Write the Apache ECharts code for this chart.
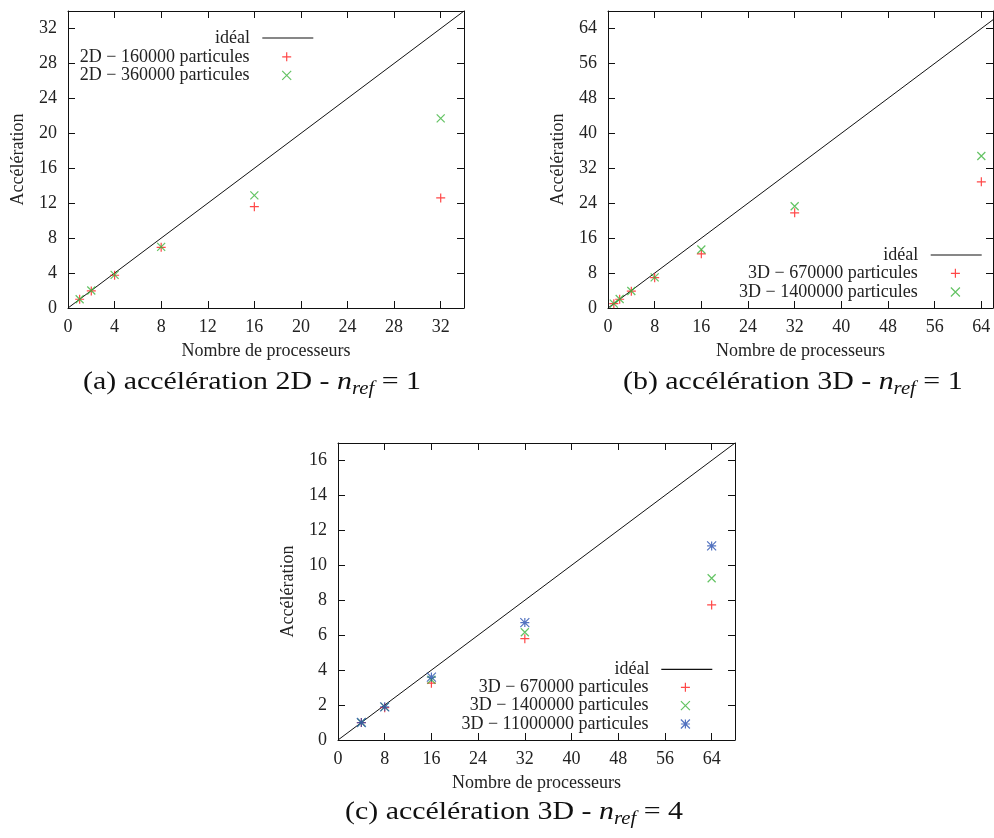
<!DOCTYPE html>
<html><head><meta charset="utf-8">
<script src="https://cdn.jsdelivr.net/npm/echarts@6/dist/echarts.min.js"></script>
<style>html,body{margin:0;padding:0;background:#fff}#c{width:994px;height:838px}</style>
</head><body><div id="c"></div>
<script>
// ---------- data ----------
// (a) 2D, n_ref = 1
const procA = [1, 2, 4, 8, 16, 32];
const acc2D_160k = [1.0, 1.95, 3.75, 6.95, 11.6, 12.6];
const acc2D_360k = [1.0, 2.0, 3.8, 7.0, 12.9, 21.7];
const idealA_x = [0, 34];
const idealA_y = [0, 34];
const xRangeA = [0, 34], xStepA = 4;
const yRangeA = [0, 34], yStepA = 4;

// (b) 3D, n_ref = 1
const procB = [1, 2, 4, 8, 16, 32, 64];
const acc3D_670k_B = [1.0, 2.0, 3.85, 6.95, 12.4, 21.8, 28.9];
const acc3D_1400k_B = [1.0, 2.05, 3.9, 7.0, 13.4, 23.3, 34.8];
const idealB_x = [0, 66];
const idealB_y = [0, 66];
const xRangeB = [0, 66], xStepB = 8;
const yRangeB = [0, 68], yStepB = 8;

// (c) 3D, n_ref = 4
const procC = [4, 8, 16, 32, 64];
const acc3D_670k_C = [1.0, 1.85, 3.25, 5.8, 7.73];
const acc3D_1400k_C = [1.0, 1.9, 3.45, 6.17, 9.26];
const acc3D_11M_C = [1.0, 1.9, 3.6, 6.72, 11.11];
const idealC_x = [0, 68];
const idealC_y = [0, 17];
const xRangeC = [0, 68], xStepC = 8;
const yRangeC = [0, 17], yStepC = 2;

// text
const xName = 'Nombre de processeurs';
const yName = 'Accélération';
const nIdeal = 'idéal';
const n2D160 = '2D \u2212 160000 particules';
const n2D360 = '2D \u2212 360000 particules';
const n3D670 = '3D \u2212 670000 particules';
const n3D1400 = '3D \u2212 1400000 particules';
const n3D11M = '3D \u2212 11000000 particules';

// ---------- style ----------
const FONT = 'Liberation Serif';
const TXT = '#222';
const RED = '#ff1a1a', GREEN = '#3cb43c', BLUE = '#2850b0';
const PLUS = 'path://M0 5L10 5M5 0L5 10';
const CROSS = 'path://M0 0L10 10M0 10L10 0';
const STAR = 'path://M0 5L10 5M5 0L5 10M0 0L10 10M0 10L10 0';

const grids = [
  {left: 68, top: 11, width: 396, height: 297},
  {left: 608, top: 11, width: 385, height: 297},
  {left: 338, top: 443, width: 397, height: 297}
].map(g => Object.assign({outerBoundsMode: 'none', containLabel: false}, g));

const lineC = {color: '#111', width: 1};
function xAxes(gi, r, step) {
  const base = {type: 'value', gridIndex: gi, min: r[0], max: r[1], interval: step,
    axisLine: {show: true, onZero: false, lineStyle: lineC},
    axisTick: {show: true, inside: true, length: 7, lineStyle: lineC},
    splitLine: {show: false}};
  return [
    Object.assign({}, base, {position: 'bottom', name: xName, nameLocation: 'middle', nameGap: 34,
      nameMoveOverlap: false,
      nameTextStyle: {fontFamily: FONT, fontSize: 18, color: TXT},
      axisLabel: {fontFamily: FONT, fontSize: 18, color: TXT, margin: 10, showMaxLabel: false}}),
    Object.assign({}, base, {position: 'top', axisLabel: {show: false}})
  ];
}
function yAxes(gi, r, step) {
  const base = {type: 'value', gridIndex: gi, min: r[0], max: r[1], interval: step,
    axisLine: {show: true, onZero: false, lineStyle: lineC},
    axisTick: {show: true, inside: true, length: 7, lineStyle: lineC},
    splitLine: {show: false}};
  return [
    Object.assign({}, base, {position: 'left', name: yName, nameLocation: 'middle', nameGap: 41,
      nameMoveOverlap: false,
      nameTextStyle: {fontFamily: FONT, fontSize: 18, color: TXT},
      axisLabel: {fontFamily: FONT, fontSize: 18, color: TXT, margin: 11, showMaxLabel: false}}),
    Object.assign({}, base, {position: 'right', axisLabel: {show: false}})
  ];
}

const xAxis = [].concat(xAxes(0, xRangeA, xStepA), xAxes(1, xRangeB, xStepB), xAxes(2, xRangeC, xStepC));
const yAxis = [].concat(yAxes(0, yRangeA, yStepA), yAxes(1, yRangeB, yStepB), yAxes(2, yRangeC, yStepC));

const zip = (xs, ys) => xs.map((x, i) => [x, ys[i]]);
function ideal(ai, xs, ys) {
  return {type: 'line', name: nIdeal, xAxisIndex: ai, yAxisIndex: ai, data: zip(xs, ys),
    symbol: 'none', silent: true, lineStyle: {color: '#111', width: 1}, itemStyle: {color: '#111'}, z: 2};
}
function pts(ai, name, xs, ys, sym, size, col) {
  return {type: 'scatter', name, xAxisIndex: ai, yAxisIndex: ai, data: zip(xs, ys),
    symbol: sym, symbolSize: size, silent: true,
    itemStyle: {color: col, borderColor: col, borderWidth: 1.2}, z: 3};
}

const series = [
  ideal(0, idealA_x, idealA_y),
  pts(0, n2D160, procA, acc2D_160k, PLUS, 9, RED),
  pts(0, n2D360, procA, acc2D_360k, CROSS, 8, GREEN),
  ideal(2, idealB_x, idealB_y),
  pts(2, n3D670, procB, acc3D_670k_B, PLUS, 9, RED),
  pts(2, n3D1400, procB, acc3D_1400k_B, CROSS, 8, GREEN),
  ideal(4, idealC_x, idealC_y),
  pts(4, n3D670, procC, acc3D_670k_C, PLUS, 9, RED),
  pts(4, n3D1400, procC, acc3D_1400k_C, CROSS, 8, GREEN),
  pts(4, n3D11M, procC, acc3D_11M_C, STAR, 9, BLUE)
];

function legLine(right, top, pad) {
  return {data: [{name: nIdeal, icon: 'rect'}], right, top, orient: 'vertical', align: 'right', padding: 0,
    itemWidth: 51, itemHeight: 1.2, selectedMode: false,
    itemStyle: {color: '#111', borderWidth: 0},
    textStyle: {fontFamily: FONT, fontSize: 18, color: TXT, lineHeight: 18, padding: [0, pad, 0, 0]}};
}
function legPt(name, right, top, pad) {
  return {data: [{name}], right, top, orient: 'vertical', align: 'right', padding: 0,
    itemWidth: 9, itemHeight: 9, selectedMode: false,
    itemStyle: {borderWidth: 1.2},
    textStyle: {fontFamily: FONT, fontSize: 18, color: TXT, lineHeight: 18, padding: [0, pad, 0, 0]}};
}
const legend = [
  legLine(680.7, 29, 7.3), legPt(n2D160, 702.2, 47.8, 27.8), legPt(n2D360, 702.2, 66.3, 27.8),
  legLine(12.3, 246, 7.4), legPt(n3D670, 33.5, 264.3, 28.2), legPt(n3D1400, 33.5, 283, 28.2),
  legLine(281.7, 660.3, 6.7), legPt(n3D670, 303.5, 678.3, 27.5), legPt(n3D1400, 303.5, 696.7, 27.5),
  legPt(n3D11M, 303.5, 715, 27.5)
];

function caption(x, y, label, dim, nref) {
  return {type: 'text', x, y, scaleX: 1.15, silent: true,
    style: {text: label + ' accélération ' + dim + ' - {n|n}{s|ref} = ' + nref,
      fontFamily: FONT, fontSize: 26, fill: '#111', align: 'left', verticalAlign: 'middle',
      rich: {n: {fontFamily: FONT, fontSize: 26, fontStyle: 'italic', color: '#111'},
             s: {fontFamily: FONT, fontSize: 18, fontStyle: 'italic', color: '#111', padding: [14, 0, 0, 0]}}}};
}

const chart = echarts.init(document.getElementById('c'), null, {renderer: 'canvas'});
chart.setOption({
  backgroundColor: '#fff',
  animation: false,
  grid: grids,
  xAxis, yAxis, series, legend,
  graphic: [
    caption(83, 382, '(a)', '2D', '1'),
    caption(623, 382, '(b)', '3D', '1'),
    caption(345, 812, '(c)', '3D', '4')
  ]
});
</script></body></html>
